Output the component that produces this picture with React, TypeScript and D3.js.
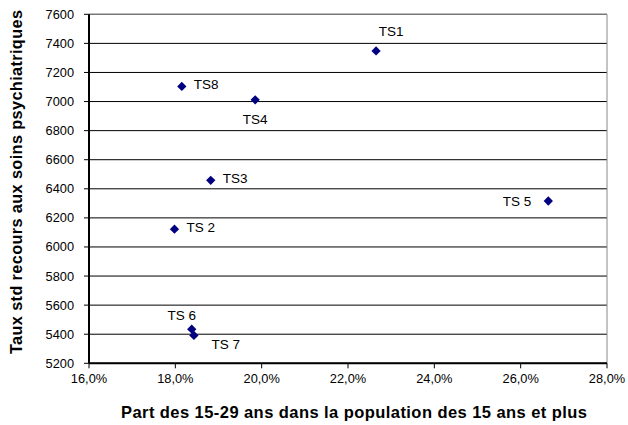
import React from "react";
import * as d3 from "d3";

const labels = ["TS1", "TS 2", "TS3", "TS4", "TS 5", "TS 6", "TS 7", "TS8"];
const xValues = [22.65, 17.98, 18.82, 19.85, 26.64, 18.38, 18.43, 18.15];
const yValues = [7348, 6122, 6458, 7012, 6316, 5435, 5392, 7104];
const labelPos = ["above", "right", "right", "below", "left", "aboveLeft", "belowRight", "right"];
const xTicks = [16, 18, 20, 22, 24, 26, 28];
const yTicks = [5200, 5400, 5600, 5800, 6000, 6200, 6400, 6600, 6800, 7000, 7200, 7400, 7600];

export default function App() {
  const W = 628, H = 425;
  const left = 89, right = 607, top = 14.3, bottom = 363.3;
  const x = d3.scaleLinear().domain([16, 28]).range([left, right]);
  const y = d3.scaleLinear().domain([5200, 7600]).range([bottom, top]);
  const font = "'Liberation Sans', Arial, sans-serif";
  const diamond = d3.symbol().type(d3.symbolDiamond2).size(55)();

  return (
    <svg width={W} height={H} style={{ position: "absolute", left: 0, top: 0, background: "#fff" }} fontFamily={font}>
      <rect x={0} y={0} width={W} height={H} fill="#fff" />
      {yTicks.map((t) => (
        <line key={"g" + t} x1={left} x2={right} y1={y(t)} y2={y(t)} stroke="#000" strokeWidth={1} />
      ))}
      <line x1={left} x2={right} y1={top} y2={top} stroke="#888" strokeWidth={1} />
      <line x1={right} x2={right} y1={top} y2={bottom} stroke="#888" strokeWidth={1} />
      <line x1={left} x2={left} y1={top} y2={bottom} stroke="#000" strokeWidth={2} />
      <line x1={left} x2={right} y1={bottom} y2={bottom} stroke="#000" strokeWidth={2} />
      {yTicks.map((t) => (
        <g key={"y" + t}>
          <line x1={left - 5} x2={left} y1={y(t)} y2={y(t)} stroke="#000" />
          <text x={left - 15} y={y(t)} dy="0.35em" textAnchor="end" fontSize={12.8}>{t}</text>
        </g>
      ))}
      {xTicks.map((t) => (
        <g key={"x" + t}>
          <line x1={x(t)} x2={x(t)} y1={bottom} y2={bottom + 5} stroke="#000" />
          <text x={x(t)} y={bottom + 20} textAnchor="middle" fontSize={12.8}>{t.toFixed(1).replace(".", ",") + "%"}</text>
        </g>
      ))}
      {labels.map((l, i) => {
        const px = x(xValues[i]);
        const py = y(yValues[i]);
        const pos = labelPos[i];
        let tx = px, ty = py, anchor = "start";
        if (pos === "above") { tx = px + 15; ty = py - 20; anchor = "middle"; }
        else if (pos === "right") { tx = px + 12; ty = py - 2; }
        else if (pos === "below") { ty = py + 19.5; anchor = "middle"; }
        else if (pos === "left") { tx = px - 17; anchor = "end"; }
        else if (pos === "aboveLeft") { tx = px - 10; ty = py - 14; anchor = "middle"; }
        else if (pos === "belowRight") { tx = px + 17.5; ty = py + 8.5; }
        return (
          <g key={l}>
            <path d={diamond} transform={`translate(${px},${py})`} fill="#000080" />
            <text x={tx} y={ty} dy="0.35em" textAnchor={anchor} fontSize={13.5}>{l}</text>
          </g>
        );
      })}
      <text x={354} y={417.5} textAnchor="middle" fontSize={16.5} fontWeight="bold" textLength={466} lengthAdjust="spacing">
        Part des 15-29 ans dans la population des 15 ans et plus
      </text>
      <text transform={`translate(21.5,182) rotate(-90)`} textAnchor="middle" fontSize={16.3} fontWeight="bold" textLength={344} lengthAdjust="spacing">
        Taux std recours aux soins psychiatriques
      </text>
    </svg>
  );
}
